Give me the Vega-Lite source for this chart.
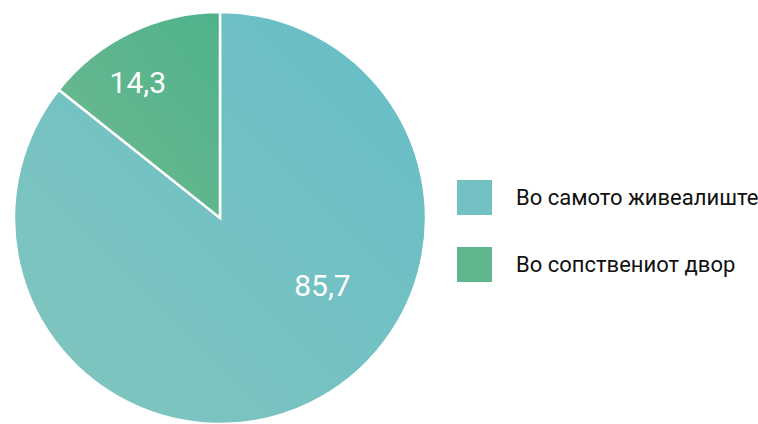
{
  "$schema": "https://vega.github.io/schema/vega-lite/v6.json",
  "width": 440,
  "height": 436,
  "padding": {"left": 0, "top": 0, "right": 0, "bottom": 0},
  "background": "white",
  "config": {"view": {"stroke": null}, "font": "Roboto"},
  "data": {
    "values": [
      {"category": "Во самото живеалиште", "value": 85.7, "label": "85,7"},
      {"category": "Во сопствениот двор", "value": 14.3, "label": "14,3"}
    ]
  },
  "encoding": {
    "theta": {"field": "value", "type": "quantitative", "stack": true},
    "order": {"field": "value", "type": "quantitative", "sort": "descending"}
  },
  "layer": [
    {
      "mark": {"type": "arc", "radius": 206, "stroke": "white", "strokeWidth": 2.5},
      "encoding": {
        "color": {
          "field": "category",
          "type": "nominal",
          "scale": {
            "domain": ["Во самото живеалиште", "Во сопствениот двор"],
            "range": ["#74c1c3", "#5eb68d"]
          },
          "legend": {
            "title": null,
            "orient": "none",
            "legendX": 457,
            "legendY": 180,
            "padding": 0,
            "symbolType": "square",
            "symbolSize": 1225,
            "symbolStrokeWidth": 0,
            "labelFontSize": 22,
            "labelColor": "#111111",
            "labelOffset": 24,
            "rowPadding": 32,
            "labelLimit": 400
          }
        }
      }
    },
    {
      "mark": {"type": "arc", "radius": 206, "stroke": "white", "strokeWidth": 2.5},
      "encoding": {
        "fill": {
          "condition": {
            "test": "datum.value > 50",
            "value": {"gradient": "linear", "x1": 0, "y1": 1, "x2": 1, "y2": 0, "stops": [{"offset": 0, "color": "#82c6be"}, {"offset": 1, "color": "#66bdc8"}]}
          },
          "value": {"gradient": "linear", "x1": 0, "y1": 1, "x2": 1, "y2": 0, "stops": [{"offset": 0, "color": "#6fba90"}, {"offset": 1, "color": "#4fb28b"}]}
        }
      }
    },
    {
      "mark": {
        "type": "text",
        "fontSize": 30,
        "color": "white",
        "baseline": "middle",
        "align": "center",
        "radius": {"expr": "datum.value > 50 ? 123 : 157"},
        "dx": {"expr": "datum.value > 50 ? 49 : -14"},
        "dy": {"expr": "datum.value > 50 ? -42 : 7"}
      },
      "encoding": {
        "text": {"field": "label"}
      }
    }
  ]
}
